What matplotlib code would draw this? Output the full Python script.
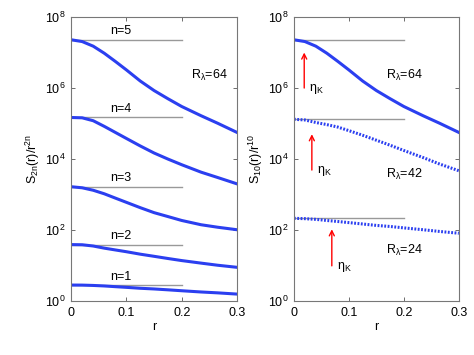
import numpy as np
import matplotlib
matplotlib.use("Agg")
import matplotlib.pyplot as plt
from matplotlib.ticker import NullLocator

plt.rcParams['font.family'] = ['Liberation Sans', 'DejaVu Sans']
plt.rcParams['mathtext.default'] = 'regular'
plt.rcParams['font.size'] = 9

r = [0.0, 0.02, 0.04, 0.06, 0.08, 0.1, 0.125, 0.15, 0.175, 0.2, 0.235, 0.265, 0.3]

# Left panel: S_2n(r)/r^2n at R_lambda = 64
n1 = [2.82, 2.81, 2.75, 2.66, 2.54, 2.43, 2.29, 2.19, 2.07, 1.95, 1.80, 1.70, 1.57]
n2 = [38.9, 38.5, 35.5, 30.9, 27.5, 24.5, 20.9, 18.2, 15.8, 13.8, 11.7, 10.2, 8.91]
n3 = [1660, 1550, 1320, 1050, 794, 603, 427, 309, 240, 186, 141, 120, 102]
n4 = [1.48e5, 1.45e5, 1.20e5, 8.32e4, 5.62e4, 3.80e4, 2.34e4, 1.48e4, 1.0e4,
      6.92e3, 4.27e3, 3.02e3, 2.0e3]
n5 = [2.29e7, 2.04e7, 1.51e7, 9.55e6, 5.62e6, 3.24e6, 1.58e6, 8.51e5, 5.01e5,
      3.02e5, 1.66e5, 1.02e5, 5.62e4]
left_series = [n1, n2, n3, n4, n5]
left_labels = ['n=1', 'n=2', 'n=3', 'n=4', 'n=5']
left_plateaus = [2.82, 38.9, 1660, 1.48e5, 2.29e7]

# Right panel: S_10(r)/r^10 at three Reynolds numbers
re64 = n5
re42 = [1.32e5, 1.26e5, 1.07e5, 9.33e4, 7.94e4, 6.31e4, 4.68e4, 3.39e4, 2.45e4,
        1.74e4, 1.10e4, 7.24e3, 4.68e3]
re24 = [214, 209, 200, 186, 174, 162, 148, 135, 126, 115, 102, 91.2, 81.3]
right_plateaus = [2.29e7, 1.32e5, 214]
right_labels = ['$R_{\\lambda}$=64', '$R_{\\lambda}$=42', '$R_{\\lambda}$=24']
right_label_y = [2.3e6, 3.6e3, 26]

# eta_K arrows (x position, tail, head)
eta_x = [0.0188, 0.0327, 0.069]
eta_tail = [1.0e6, 4.9e3, 9.8]
eta_head = [1.0e7, 5.0e4, 105]

blue = '#2b3ff0'
gray = '#999999'

fig = plt.figure(figsize=(4.74, 3.55), dpi=100)
axL = fig.add_axes([0.150, 0.152, 0.350, 0.800])
axR = fig.add_axes([0.620, 0.152, 0.348, 0.800])

def style(ax):
    ax.set_yscale('log')
    ax.set_xlim(0, 0.3)
    ax.set_ylim(1, 1e8)
    ax.set_xticks([0, 0.1, 0.2, 0.3])
    ax.set_xticklabels(['0', '0.1', '0.2', '0.3'])
    ax.set_yticks([1, 1e2, 1e4, 1e6, 1e8])
    ax.set_yticklabels(['$10^0$', '$10^2$', '$10^4$', '$10^6$', '$10^8$'])
    ax.yaxis.set_minor_locator(NullLocator())
    ax.tick_params(direction='in', top=True, right=True, length=3, width=0.6,
                   color='#555555', labelsize=9, pad=4)
    for s in ax.spines.values():
        s.set_color('#777777')
        s.set_linewidth(0.8)
    ax.set_xlabel('r', fontsize=9, labelpad=2)

style(axL)
style(axR)

for ys, lab, p in zip(left_series, left_labels, left_plateaus):
    axL.plot(r, ys, color=blue, lw=2.2, solid_joinstyle='round')
    axL.plot([0, 0.2], [p, p], color=gray, lw=1.0, zorder=1)
    axL.text(0.07, p * 10 ** 0.24, lab, fontsize=9, ha='left', va='center')
axL.text(0.217, 2.3e6, '$R_{\\lambda}$=64', fontsize=9, ha='left', va='center')
axL.set_ylabel('$S_{2n}(r)/r^{2n}$', fontsize=9, labelpad=2)

axR.plot(r, re64, color=blue, lw=2.2, solid_joinstyle='round')
axR.plot(r, re42, color=blue, lw=2.2, linestyle=(0, (0.6, 0.5)))
axR.plot(r, re24, color=blue, lw=2.2, linestyle=(0, (0.6, 0.5)))
for p in right_plateaus:
    axR.plot([0, 0.2], [p, p], color=gray, lw=1.0, zorder=1)
for x, t, h in zip(eta_x, eta_tail, eta_head):
    axR.annotate('', xy=(x, h), xytext=(x, t),
                 arrowprops=dict(arrowstyle='->', color='red', lw=1.0,
                                 mutation_scale=9, shrinkA=0, shrinkB=0))
    axR.text(x + 0.009, t * 0.95, '$\\eta_K$', fontsize=9, ha='left', va='center')
for lab, y in zip(right_labels, right_label_y):
    axR.text(0.168, y, lab, fontsize=9, ha='left', va='center')
axR.set_ylabel('$S_{10}(r)/r^{10}$', fontsize=9, labelpad=2)

fig.savefig('out.png', dpi=100)
